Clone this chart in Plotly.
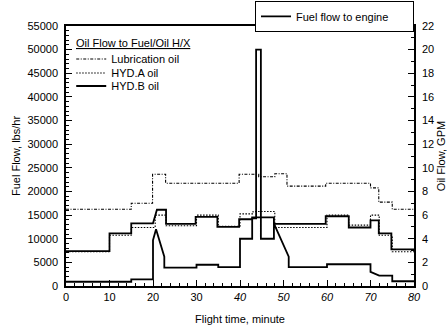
import plotly.graph_objects as go

# ---- data ----
fuel_time = [0, 15, 15, 20, 20, 20.7, 22.6, 22.6, 30, 30, 35, 35, 40, 40, 42.8, 42.8,
             43.7, 43.7, 44.8, 44.8, 47.8, 47.8, 51.2, 51.2, 60, 60, 70, 70, 72, 75, 75, 80]
fuel_lbs_hr = [900, 900, 1400, 1400, 9700, 12000, 6200, 3900, 3900, 4500, 4500, 4000, 4000,
               10000, 10000, 14300, 14300, 50000, 50000, 10000, 10000, 13200, 6200, 4000,
               4000, 4600, 4600, 3000, 2200, 2200, 1000, 1000]

lub_time = [0, 15, 19.9, 22.9, 39.8, 44.3, 48.0, 50.8, 59.7, 70.0, 71.9, 75.0, 80]
lub_gpm = [6.5, 7.0, 9.45, 8.7, 9.45, 9.25, 9.5, 8.45, 8.7, 8.3, 7.1, 6.5, 6.5]

hyda_time = [0, 10, 15, 20.5, 23, 30, 35, 40, 43, 48, 60, 65, 70, 72, 75, 80]
hyda_gpm = [2.9, 4.3, 4.95, 6.0, 5.1, 6.0, 5.05, 6.1, 6.3, 4.95, 6.0, 5.15, 6.0, 4.3, 2.9, 2.9]

hydb_time = [0, 10, 10, 15, 15, 20, 20.9, 23, 23, 29.8, 29.8, 34.8, 34.8, 39.8, 39.8, 42.8,
             42.8, 47.8, 47.8, 59.7, 59.7, 65, 65, 70, 70, 71.9, 71.9, 74.8, 74.8, 80]
hydb_gpm = [2.95, 2.95, 4.45, 4.45, 5.3, 5.3, 6.45, 6.45, 5.25, 5.25, 5.85, 5.85, 5.0, 5.0,
            5.65, 5.65, 5.8, 5.8, 5.25, 5.25, 5.9, 5.9, 4.95, 4.95, 5.55, 5.55, 4.45, 4.45,
            3.1, 3.1]

x_ticks = [0, 10, 20, 30, 40, 50, 60, 70, 80]
x_ticktext = ["0", "10", "20", "30", "<i>40</i>", "<i>50</i>", "<i>60</i>", "<i>70</i>", "<i>80</i>"]
y_ticks = list(range(0, 55001, 5000))
y2_ticks = list(range(0, 23, 2))

FONT = "Liberation Sans, Arial, Helvetica, sans-serif"

fig = go.Figure()
fig.add_trace(go.Scatter(x=fuel_time, y=fuel_lbs_hr, mode="lines", name="Fuel flow to engine",
                         line=dict(color="black", width=1.8), legend="legend", yaxis="y",
                         showlegend=True))
fig.add_trace(go.Scatter(x=lub_time, y=lub_gpm, mode="lines", name="Lubrication oil",
                         line=dict(color="black", width=1.1, dash="3px,1.5px,1px,1.5px", shape="hv"),
                         legend="legend2", yaxis="y2", showlegend=True))
fig.add_trace(go.Scatter(x=hyda_time, y=hyda_gpm, mode="lines", name="HYD.A oil",
                         line=dict(color="black", width=1.1, dash="1.5px,1.5px", shape="hv"),
                         legend="legend3", yaxis="y2", showlegend=True))
fig.add_trace(go.Scatter(x=hydb_time, y=hydb_gpm, mode="lines", name="HYD.B oil",
                         line=dict(color="black", width=1.8),
                         legend="legend4", yaxis="y2", showlegend=True))

axis_common = dict(showline=True, linecolor="black", linewidth=1.5, showgrid=False, zeroline=False,
                   ticks="inside", tickcolor="black", tickwidth=1.2,
                   tickfont=dict(family=FONT, size=11, color="black"))

fig.update_layout(
    width=447, height=326,
    showlegend=True,
    margin=dict(l=66, r=33, t=26, b=40, autoexpand=False),
    paper_bgcolor="white", plot_bgcolor="white",
    font=dict(family=FONT, size=11, color="black"),
    xaxis=dict(range=[0, 80], tickvals=x_ticks, ticktext=x_ticktext, ticklen=6, mirror=True,
               minor=dict(dtick=2, ticks="inside", ticklen=3, tickcolor="black"),
               title=dict(text="Flight time, minute", standoff=13, font=dict(size=11)),
               **axis_common),
    yaxis=dict(range=[0, 55000], tickvals=y_ticks, tickformat="d", ticklen=6, ticklabelstandoff=4,
               minor=dict(dtick=1000, ticks="inside", ticklen=3, tickcolor="black"),
               title=dict(text="Fuel Flow, lbs/hr", standoff=5, font=dict(size=11)),
               **axis_common),
    yaxis2=dict(range=[0, 22], tickvals=y2_ticks, ticklen=6, overlaying="y", side="right",
                ticklabelstandoff=4,
                minor=dict(dtick=1, ticks="inside", ticklen=3, tickcolor="black"),
                title=dict(text="Oil Flow, GPM", standoff=4, font=dict(size=11)),
                **axis_common),
    legend=dict(x=1.0, xanchor="right", y=1.097, yanchor="top", bgcolor="white",
                orientation="h", entrywidth=112, entrywidthmode="pixels",
                bordercolor="black", borderwidth=1, font=dict(size=11), visible=True),
    legend2=dict(x=0.015, xanchor="left", y=0.929, yanchor="top", bgcolor="rgba(0,0,0,0)",
                 font=dict(size=11)),
    legend3=dict(x=0.015, xanchor="left", y=0.875, yanchor="top", bgcolor="rgba(0,0,0,0)",
                 font=dict(size=11)),
    legend4=dict(x=0.015, xanchor="left", y=0.825, yanchor="top", bgcolor="rgba(0,0,0,0)",
                 font=dict(size=11)),
    annotations=[dict(text="<u>Oil Flow to Fuel/Oil H/X</u>", xref="paper", yref="paper",
                      x=0.024, y=0.935, xanchor="left", yanchor="middle", showarrow=False,
                      font=dict(family=FONT, size=11, color="black"))],
)

fig.write_html("out.html")
